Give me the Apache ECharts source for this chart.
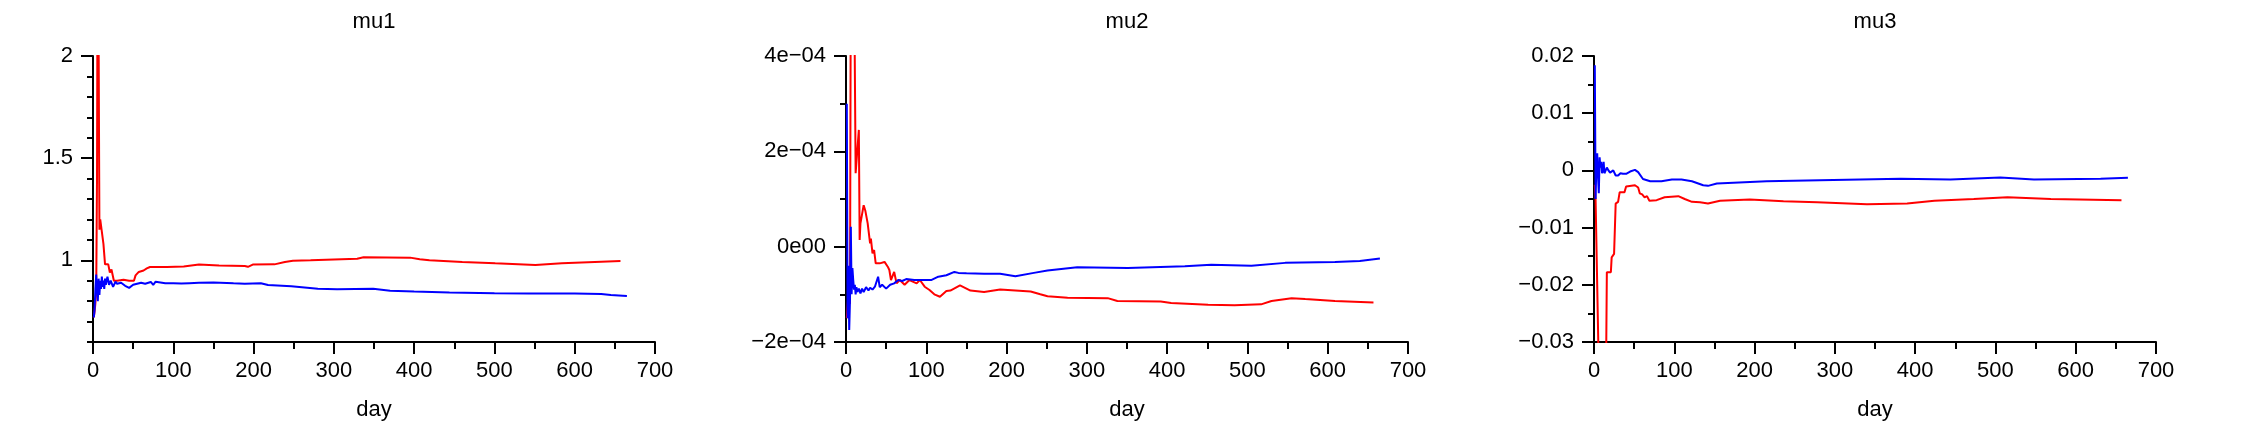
<!DOCTYPE html>
<html>
<head>
<meta charset="utf-8">
<script src="https://cdn.jsdelivr.net/npm/echarts@6/dist/echarts.min.js"></script>
<style>
html,body{margin:0;padding:0;background:#fff;}
#chart{width:2250px;height:434px;}
</style>
</head>
<body>
<div id="chart"></div>
<script>
// ---------- DATA ----------
const panelTitles = ['mu1', 'mu2', 'mu3'];
const xTitle = 'day';

// mu1
const mu1RedDays = [1,2,3,4,5,6,7,8,9,10,11,13,15,19,21,23,25,26,30,38,45,51,53,57,63,67,71,92,113,132,157,189,193,199,226,239,249,271,329,337,395,407,419,460,501,551,584,625,657];
const mu1RedVals = [0.72,0.75,0.79,0.85,1.4,3.0,3.0,1.15,1.2,1.2,1.14,1.08,0.98,0.98,0.94,0.955,0.95,0.9,0.9,0.905,0.9,0.9,0.926,0.943,0.95,0.96,0.967,0.967,0.97,0.979,0.975,0.972,0.968,0.979,0.98,0.992,0.998,1.0,1.008,1.015,1.013,1.005,1.0,0.992,0.985,0.977,0.985,0.992,0.997];
const mu1BlueDays = [1,2,3,4,5,6,7,8,9,10,11,12,13,14,15,16,18,20,22,25,28,30,35,40,45,50,55,60,65,72,75,78,80,90,100,110,120,132,150,175,189,209,218,247,280,304,349,370,400,444,500,543,600,633,645,665];
const mu1BlueVals = [0.72,0.76,0.86,0.93,0.85,0.8,0.91,0.83,0.9,0.86,0.92,0.87,0.9,0.86,0.91,0.88,0.92,0.88,0.9,0.87,0.895,0.885,0.89,0.875,0.865,0.88,0.885,0.89,0.885,0.894,0.88,0.895,0.89,0.888,0.887,0.886,0.888,0.89,0.891,0.887,0.885,0.888,0.879,0.873,0.861,0.858,0.861,0.851,0.847,0.842,0.839,0.838,0.837,0.835,0.83,0.825];

// mu2 (values in units of 1e-4)
const mu2RedDays = [1,3,5,6,10,12,14,16,17,18,20,22,24,27,30,31,33,35,37,42,48,52,54,56,60,63,67,73,79,88,92,98,104,110,117,125,130,142,155,172,192,230,242,251,276,326,338,392,405,451,484,517,530,555,572,609,657];
const mu2RedVals = [-1.5,-1.0,-1.2,6,6,1.54,2.0,2.45,0.14,0.49,0.49,0.87,0.76,0.49,0.07,0.17,-0.14,-0.07,-0.35,-0.35,-0.32,-0.42,-0.49,-0.7,-0.53,-0.77,-0.7,-0.8,-0.7,-0.77,-0.7,-0.84,-0.91,-1.0,-1.05,-0.93,-0.92,-0.81,-0.92,-0.95,-0.9,-0.94,-1.0,-1.04,-1.07,-1.08,-1.14,-1.15,-1.18,-1.22,-1.23,-1.21,-1.14,-1.08,-1.1,-1.14,-1.17];
const mu2BlueDays = [1,2,3,4,5,6,7,8,9,10,11,12,13,14,16,18,20,22,25,28,30,33,36,40,42,45,50,55,60,65,70,75,85,94,106,115,125,135,140,150,172,192,211,234,251,288,351,422,455,505,547,609,640,665];
const mu2BlueVals = [3.0,-1.5,-0.4,-1.75,-1.1,0.42,-1.0,-0.45,-0.7,-0.9,-0.8,-1.0,-0.85,-0.95,-0.88,-0.98,-0.88,-0.95,-0.85,-0.92,-0.86,-0.9,-0.84,-0.63,-0.85,-0.8,-0.88,-0.8,-0.77,-0.7,-0.72,-0.68,-0.7,-0.7,-0.7,-0.63,-0.6,-0.53,-0.55,-0.56,-0.57,-0.57,-0.62,-0.55,-0.5,-0.43,-0.45,-0.41,-0.38,-0.4,-0.34,-0.32,-0.3,-0.25];

// mu3
const mu3RedDays = [1,2,6,15,16,21,22,25,27,30,32,38,40,51,55,57,60,63,66,69,78,88,105,113,122,132,142,157,194,236,278,340,390,424,473,515,569,657];
const mu3RedVals = [-0.0025,-0.0052,-0.035,-0.035,-0.0178,-0.0178,-0.0152,-0.0146,-0.0058,-0.0055,-0.0038,-0.0038,-0.0028,-0.0026,-0.003,-0.004,-0.0042,-0.0047,-0.0045,-0.0053,-0.0052,-0.0047,-0.0045,-0.005,-0.0055,-0.00555,-0.0058,-0.0053,-0.0051,-0.0054,-0.00555,-0.0059,-0.0058,-0.0053,-0.005,-0.0047,-0.005,-0.0052];
const mu3BlueDays = [1,2,3,4,5,6,7,8,9,10,11,12,13,14,16,18,20,22,24,27,30,33,36,40,45,51,55,61,70,84,97,109,122,136,142,153,215,298,382,444,506,548,631,665];
const mu3BlueVals = [0.0184,-0.005,0.0012,0.003,-0.001,-0.004,0.0023,0.0005,0.0015,-0.0005,0,0.0015,-0.0005,-0.0006,0.0005,0,-0.0004,-0.0006,0,-0.0009,-0.0009,-0.0005,-0.0006,-0.0006,-0.0002,0.0001,-0.0003,-0.0015,-0.0019,-0.0019,-0.0016,-0.0016,-0.0019,-0.0026,-0.0027,-0.0023,-0.0019,-0.0017,-0.00146,-0.0016,-0.00123,-0.0016,-0.00146,-0.0013];

// tick labels
const xTickValues = [0,100,200,300,400,500,600,700];
const xTickLabels = ['0','100','200','300','400','500','600','700'];
const mu1TickValues = [1, 1.5, 2];
const mu1TickLabels = ['1', '1.5', '2'];
const mu2TickValues = [-2, 0, 2, 4];
const mu2TickLabels = ['\u22122e\u221204', '0e00', '2e\u221204', '4e\u221204'];
const mu3TickValues = [-3, -2, -1, 0, 1, 2];
const mu3TickLabels = ['\u22120.03', '\u22120.02', '\u22120.01', '0', '0.01', '0.02'];

// ---------- CHART ----------
const FONT = "'Liberation Sans', Arial, Helvetica, sans-serif";
const FS = 22;
const grids = [
  {left: 93, top: 56, width: 562, height: 286},
  {left: 846, top: 56, width: 562, height: 286},
  {left: 1594, top: 56, width: 562, height: 286}
];
const lineBlack = {color: '#000', width: 2};

function pairs(d, v, k) { return d.map((x, i) => [x, v[i] * (k || 1)]); }
function lookup(vals, labs, v, scale) {
  for (let i = 0; i < vals.length; i++) {
    if (Math.abs(vals[i] - v * scale) < 1e-6) return labs[i];
  }
  return '';
}

const xAxes = grids.map((g, i) => ({
  type: 'value', gridIndex: i, min: 0, max: 700, interval: 100,
  axisLine: {show: true, onZero: false, lineStyle: lineBlack},
  axisTick: {show: true, length: 12, lineStyle: lineBlack},
  minorTick: {show: true, splitNumber: 2, length: 7, lineStyle: lineBlack},
  splitLine: {show: false}, minorSplitLine: {show: false},
  axisLabel: {color: '#000', fontSize: FS, fontFamily: FONT, margin: 18,
    formatter: v => lookup(xTickValues, xTickLabels, v, 1)},
  name: xTitle, nameLocation: 'middle', nameGap: 57,
  nameTextStyle: {color: '#000', fontSize: FS, fontFamily: FONT}
}));

const yAxes = [
  { // mu1 minor ticks every 0.1
    type: 'value', gridIndex: 0, min: 0.6, max: 2, interval: 0.1,
    axisLine: {show: true, onZero: false, lineStyle: lineBlack},
    axisTick: {show: true, length: 6, lineStyle: lineBlack},
    axisLabel: {show: false}, splitLine: {show: false}
  },
  { // mu1 major ticks + labels
    type: 'value', gridIndex: 0, min: 0.6, max: 2, position: 'left',
    axisLine: {show: false, onZero: false},
    axisTick: {show: true, length: 12, lineStyle: lineBlack, customValues: mu1TickValues},
    axisLabel: {show: true, color: '#000', fontSize: FS, fontFamily: FONT, margin: 20,
      customValues: mu1TickValues,
      formatter: v => lookup(mu1TickValues, mu1TickLabels, v, 1)},
    splitLine: {show: false}
  },
  { // mu2
    type: 'value', gridIndex: 1, min: -2e-4, max: 4e-4, interval: 2e-4,
    axisLine: {show: true, onZero: false, lineStyle: lineBlack},
    axisTick: {show: true, length: 12, lineStyle: lineBlack},
    minorTick: {show: true, splitNumber: 2, length: 6, lineStyle: lineBlack},
    axisLabel: {color: '#000', fontSize: FS, fontFamily: FONT, margin: 20,
      formatter: v => lookup(mu2TickValues, mu2TickLabels, v, 1e4)},
    splitLine: {show: false}, minorSplitLine: {show: false}
  },
  { // mu3
    type: 'value', gridIndex: 2, min: -0.03, max: 0.02, interval: 0.01,
    axisLine: {show: true, onZero: false, lineStyle: lineBlack},
    axisTick: {show: true, length: 12, lineStyle: lineBlack},
    minorTick: {show: true, splitNumber: 2, length: 6, lineStyle: lineBlack},
    axisLabel: {color: '#000', fontSize: FS, fontFamily: FONT, margin: 20,
      formatter: v => lookup(mu3TickValues, mu3TickLabels, v, 100)},
    splitLine: {show: false}, minorSplitLine: {show: false}
  }
];

function lineSeries(xi, yi, data, color) {
  return {
    type: 'line', xAxisIndex: xi, yAxisIndex: yi, data: data,
    showSymbol: false, symbol: 'none', clip: true, animation: false,
    lineStyle: {color: color, width: 2}, itemStyle: {color: color}
  };
}

const series = [
  lineSeries(0, 0, pairs(mu1RedDays, mu1RedVals), '#ff0000'),
  lineSeries(0, 0, pairs(mu1BlueDays, mu1BlueVals), '#0000ff'),
  lineSeries(1, 2, pairs(mu2RedDays, mu2RedVals, 1e-4), '#ff0000'),
  lineSeries(1, 2, pairs(mu2BlueDays, mu2BlueVals, 1e-4), '#0000ff'),
  lineSeries(2, 3, pairs(mu3RedDays, mu3RedVals), '#ff0000'),
  lineSeries(2, 3, pairs(mu3BlueDays, mu3BlueVals), '#0000ff')
];

const graphic = grids.map((g, i) => ({
  type: 'text', x: g.left + g.width / 2, y: 22,
  style: {text: panelTitles[i], fill: '#000', font: FS + 'px ' + FONT,
    textAlign: 'center', textVerticalAlign: 'middle'}
}));

const chart = echarts.init(document.getElementById('chart'), null, {renderer: 'canvas'});
chart.setOption({
  backgroundColor: '#ffffff',
  animation: false,
  grid: grids,
  xAxis: xAxes,
  yAxis: yAxes,
  series: series,
  graphic: graphic
});
</script>
</body>
</html>
